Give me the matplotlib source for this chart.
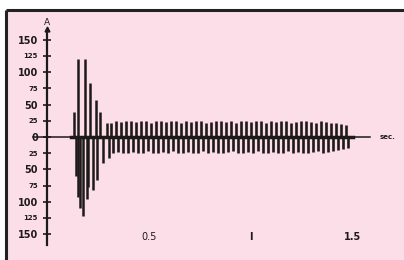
import numpy as np
import matplotlib.pyplot as plt
from matplotlib.patches import Rectangle

# transient after switching on (time in s, current in A)
burst_t = [0.132, 0.140, 0.152, 0.154, 0.162, 0.176, 0.186, 0.194, 0.201, 0.211,
           0.225, 0.240, 0.245, 0.260, 0.275, 0.294, 0.304]
burst_i = [38, -60, -93, 120, -110, -122, 120, -95, -77, 83,
           -82, 57, -66, 38, -40, 21, -32]

# steady oscillation, peak values per cycle
peak_up = [22, 24, 23, 25, 24, 23, 25, 24, 22, 24, 25, 23, 24, 25, 22, 24,
           23, 25, 24, 22, 23, 25, 24, 23, 24, 22, 25, 24, 23, 24, 25, 22,
           24, 23, 25, 24, 22, 23, 24, 25, 23, 22, 24, 23, 21, 22, 20, 18]
peak_dn = [-24, -23, -25, -24, -23, -25, -24, -22, -24, -25, -23, -24, -22, -25, -24, -23,
           -25, -24, -22, -24, -23, -25, -24, -23, -22, -24, -25, -23, -24, -22, -25, -24,
           -23, -24, -25, -22, -24, -23, -25, -24, -23, -22, -24, -23, -22, -20, -19, -17]
t_start = 0.312
period = 0.0245

y_ticks = [150, 125, 100, 75, 50, 25, 0, -25, -50, -75, -100, -125, -150]
y_labels = ['150', '125', '100', '75', '50', '25', '0', '25', '50', '75', '100', '125', '150']
x_ticks = [0.5, 1.0, 1.5]
x_labels = ['0.5', 'I', '1.5']

fig = plt.figure(figsize=(4.04, 2.60), dpi=100)
fig.patch.set_facecolor('white')

# pink panel with dark top/left edge
bg = fig.add_axes([0, 0, 1, 1])
bg.set_axis_off()
bg.set_xlim(0, 404)
bg.set_ylim(260, 0)
bg.add_patch(Rectangle((6, 10), 400, 252, facecolor='#fcdee8', edgecolor='none'))
bg.plot([6, 404], [10, 10], color='#222222', lw=2.2, solid_capstyle='butt')
bg.plot([6, 6], [10, 260], color='#222222', lw=2.2, solid_capstyle='butt')

ax = fig.add_axes([0, 0, 1, 1])
ax.set_zorder(2)
ax.set_facecolor('none')
ax.set_xlim(-47 / 204, 357 / 204)
ax.set_ylim(-123 / 0.648, 137 / 0.648)

ink = '#1e1a1a'

# spines through the origin
for s in ['top', 'right']:
    ax.spines[s].set_visible(False)
ax.spines['left'].set_position(('data', 0))
ax.spines['bottom'].set_position(('data', 0))
ax.spines['left'].set_bounds(-167, 165)
ax.spines['bottom'].set_bounds(-0.07, 1.585)
ax.spines['left'].set_color(ink)
ax.spines['bottom'].set_color(ink)
ax.spines['left'].set_linewidth(1.6)
ax.spines['bottom'].set_linewidth(1.1)

ax.set_yticks(y_ticks)
ax.set_yticklabels(y_labels)
ax.tick_params(axis='y', direction='inout', length=6, width=1.2, pad=3.5, colors=ink,
               labelsize=7)
for lab, v in zip(ax.get_yticklabels(), y_ticks):
    lab.set_fontweight('bold')
    if abs(v) in (25, 75, 125):
        lab.set_fontsize(5)
ax.set_xticks([])

# arrow tip and axis names
ax.plot(0, 166, marker='^', ms=3.5, color=ink, clip_on=False)
ax.text(0, 176, 'A', ha='center', va='center', fontsize=6.5, color=ink)
ax.text(1.63, 0, 'sec.', ha='left', va='center', fontsize=5, color=ink, fontweight='bold')

for xt, xl in zip(x_ticks, x_labels):
    ax.text(xt, -154, xl, ha='center', va='center', fontsize=7, color=ink,
            fontweight='normal' if xt == 0.5 else 'bold')

# oscillogram
ax.vlines(burst_t, 0, burst_i, color=ink, lw=1.8)
t_up = t_start + period * np.arange(len(peak_up))
t_dn = t_up + period / 2
ax.vlines(t_up, 0, peak_up, color=ink, lw=1.9)
ax.vlines(t_dn, 0, peak_dn, color=ink, lw=1.9)
ax.plot([0.12, 1.5], [0, 0], color=ink, lw=2.5)

fig.savefig('out.png', dpi=100)
